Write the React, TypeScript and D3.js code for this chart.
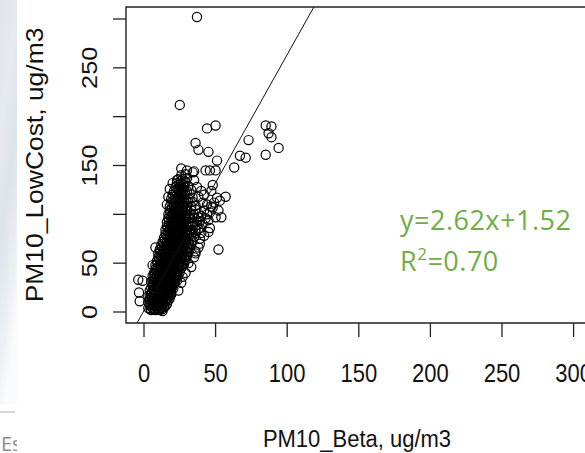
import React from "react";
import * as d3 from "d3";

// ---- data ----
const xTicks = [0, 50, 100, 150, 200, 250, 300];
const yTicks = [0, 50, 100, 150, 200, 250, 300];
const yTickLabels = [0, 50, 150, 250];
const fitSlope = 2.62;
const fitIntercept = 1.52;
const fitText = "y=2.62x+1.52";
const r2Text = "0.70";
const xTitle = "PM10_Beta, ug/m3";
const yTitle = "PM10_LowCost, ug/m3";

// dense core of the cloud: [PM10_Beta, PM10_LowCost]
const corePoints: [number, number][] = [
  [5,2],[8,2],[11,2],
  [3,4],[6,4],[9,4],[12,4],[14,5],
  [4,7],[7,7],[10,7],[13,7],[16,8],
  [3,10],[6,10],[9,10],[12,10],[15,11],
  [4,13],[7,13],[10,13],[13,13],[16,13],[18,14],
  [3,16],[6,16],[9,16],[12,16],[15,16],[18,17],
  [5,19],[8,19],[11,19],[14,19],[17,19],[19,20],
  [4,22],[7,22],[10,22],[13,22],[16,22],[19,23],
  [5,25],[8,25],[11,25],[14,25],[17,25],[20,26],
  [6,28],[9,28],[12,28],[15,28],[18,28],[21,29],
  [5,31],[8,31],[11,31],[14,31],[17,31],[20,31],[23,32],
  [7,34],[10,34],[13,34],[16,34],[19,34],[22,35],
  [6,37],[9,37],[12,37],[15,37],[18,37],[21,37],[24,38],
  [7,40],[10,40],[13,40],[16,40],[19,40],[22,40],[25,41],
  [8,44],[11,44],[14,44],[17,44],[20,44],[23,44],[26,45],
  [8,48],[11,48],[14,48],[17,48],[20,48],[23,48],[26,48],[28,49],
  [9,52],[12,52],[15,52],[18,52],[21,52],[24,52],[27,52],[29,53],
  [10,56],[13,56],[16,56],[19,56],[22,56],[25,56],[28,56],[30,57],
  [10,60],[13,60],[16,60],[19,60],[22,60],[25,60],[28,60],[31,61],
  [11,64],[14,64],[17,64],[20,64],[23,64],[26,64],[29,64],[32,65],
  [12,68],[15,68],[18,68],[21,68],[24,68],[27,68],[30,68],[33,69],
  [13,72],[16,72],[19,72],[22,72],[25,72],[28,72],[31,72],[34,73],
  [14,76],[17,76],[20,76],[23,76],[26,76],[29,76],[32,76],[35,77],
  [15,80],[18,80],[21,80],[24,80],[27,80],[30,80],[33,80],[36,81],
  [15,84],[18,84],[21,84],[24,84],[27,84],[30,84],[33,84],[36,84],[38,85],
  [16,88],[19,88],[22,88],[25,88],[28,88],[31,88],[34,88],[37,89],
  [16,92],[19,92],[22,92],[25,92],[28,92],[31,92],[34,92],[37,92],[39,93],
  [17,96],[20,96],[23,96],[26,96],[29,96],[32,96],[35,96],[38,97],
  [17,100],[20,100],[23,100],[26,100],[29,100],[32,100],[35,100],[38,101],
  [18,104],[21,104],[24,104],[27,104],[30,104],[33,104],[36,105],
  [18,108],[21,108],[24,108],[27,108],[30,108],[33,108],[36,109],
  [19,112],[22,112],[25,112],[28,112],[31,112],[34,113],
  [19,116],[22,116],[25,116],[28,116],[31,116],[34,117],
  [20,120],[23,120],[26,120],[29,120],[32,121],
  [21,124],[24,124],[27,124],[30,124],[33,125],
  [22,128],[25,128],[28,128],[31,129],
  [23,132],[26,132],[29,133],
  [24,136],[27,136],[30,137],
  [26,140],[29,141],
];

// points lying between the rows above (the cloud is solid black there)
const coreFillPoints: [number, number][] = [
  [4.5,3],[7.5,3],[10.5,3],[13,3],
  [5.5,5.5],[8.5,5.5],[11.5,5.5],[15,6],
  [4.5,8.5],[7.5,8.5],[10.5,8.5],[13.5,8.5],
  [5.5,11.5],[8.5,11.5],[11.5,11.5],[14.5,11.5],[17,12],
  [4.5,14.5],[7.5,14.5],[10.5,14.5],[13.5,14.5],[16.5,14.5],
  [4.5,17.5],[7.5,17.5],[10.5,17.5],[13.5,17.5],[16.5,17.5],[19,18],
  [5.5,20.5],[8.5,20.5],[11.5,20.5],[14.5,20.5],[17.5,20.5],
  [6.5,23.5],[9.5,23.5],[12.5,23.5],[15.5,23.5],[18.5,23.5],[20.5,24],
  [6.5,26.5],[9.5,26.5],[12.5,26.5],[15.5,26.5],[18.5,26.5],
  [6.5,29.5],[9.5,29.5],[12.5,29.5],[15.5,29.5],[18.5,29.5],[21.5,30],
  [6.5,32.5],[9.5,32.5],[12.5,32.5],[15.5,32.5],[18.5,32.5],[21.5,33],
  [7.5,35.5],[10.5,35.5],[13.5,35.5],[16.5,35.5],[19.5,35.5],[22.5,36],
  [7.5,38.5],[10.5,38.5],[13.5,38.5],[16.5,38.5],[19.5,38.5],[22.5,39],
  [8.5,42],[11.5,42],[14.5,42],[17.5,42],[20.5,42],[23.5,42],
  [9.5,46],[12.5,46],[15.5,46],[18.5,46],[21.5,46],[24.5,46],[27,47],
  [9.5,50],[12.5,50],[15.5,50],[18.5,50],[21.5,50],[24.5,50],[27.5,50],
  [10.5,54],[13.5,54],[16.5,54],[19.5,54],[22.5,54],[25.5,54],[28.5,54],
  [11.5,58],[14.5,58],[17.5,58],[20.5,58],[23.5,58],[26.5,58],[29.5,58],
  [11.5,62],[14.5,62],[17.5,62],[20.5,62],[23.5,62],[26.5,62],[29.5,62],
  [12.5,66],[15.5,66],[18.5,66],[21.5,66],[24.5,66],[27.5,66],[30.5,66],
  [13.5,70],[16.5,70],[19.5,70],[22.5,70],[25.5,70],[28.5,70],[31.5,70],
  [14.5,74],[17.5,74],[20.5,74],[23.5,74],[26.5,74],[29.5,74],
  [15.5,78],[18.5,78],[21.5,78],[24.5,78],[27.5,78],[30.5,78],
  [16.5,82],[19.5,82],[22.5,82],[25.5,82],[28.5,82],[31.5,82],
  [16.5,86],[19.5,86],[22.5,86],[25.5,86],[28.5,86],
  [17.5,90],[20.5,90],[23.5,90],[26.5,90],[29.5,90],[32.5,90],
  [17.5,94],[20.5,94],[23.5,94],[26.5,94],[29.5,94],
  [18.5,98],[21.5,98],[24.5,98],[27.5,98],[30.5,98],
  [18.5,102],[21.5,102],[24.5,102],[27.5,102],
  [19.5,106],[22.5,106],[25.5,106],[28.5,106],
  [20.5,110],[23.5,110],[26.5,110],
  [20.5,114],[23.5,114],[26.5,114],[29.5,114],
  [21.5,118],[24.5,118],[27.5,118],
  [22.5,122],[25.5,122],[28.5,122],
  [23.5,126],[26.5,126],
  [24.5,130],[27.5,130],
  [25.5,134],[28.5,134],
];

// loose rings around the edge of the cloud
const edgePoints: [number, number][] = [
  [39,70],[36,62],[31,50],[27,36],[24,22],[13,1],[40,81],[45,82],[46,86],[39,75],[36,60],
  [45,94],[50,97],[54,97],[48,107],[51,117],[57,118],[47,108],[42,104],[44,100],
  [48,130],[43,145],[46,145],[50,145],[20,132],[18,126],[23,135],[26,147],[30,145],[35,144],
  [8,66],[6,48],[-4,33],[-1,32],[-3.5,20],[-3,11],[52,64],[34,143],
  [41,90],[43,96],[40,98],[46,102],[49,112],[53,114],[44,110],[41,112],[38,118],
  [40,124],[37,128],[42,120],[39,86],[42,78],[38,66],[35,56],[33,46],[29,40],[26,30],
  [47,124],[52,104],[17,118],[16,110],[35,135],
];

// high values
const outlierPoints: [number, number][] = [
  [37,302],[25,212],[44,188],[50,191],[36,173],[38,166],[45,164],[51,155],
  [73,176],[85,191],[89,190],[87,183],[89,179],[94,168],[85,161],[67,160],
  [71,158],[63,148],
];

const W = 585;
const H = 453;
const box = { left: 126, right: 604, top: 7, bottom: 323 };

export default function App() {
  const x = d3.scaleLinear().domain([0, 300]).range([144, 573.6]);
  const y = d3.scaleLinear().domain([0, 300]).range([312, 19]);

  const allPoints = [...corePoints, ...coreFillPoints, ...edgePoints, ...outlierPoints];

  const x0 = x.invert(box.left);
  const x1 = x.invert(box.right);
  const fitLine = d3
    .line<number>()
    .x((d) => x(d))
    .y((d) => y(fitSlope * d + fitIntercept))([x0, x1]) as string;

  const axisFont = "'Liberation Sans', Arial, sans-serif";
  const green = "#70AD47";

  return (
    <svg
      width={W}
      height={H}
      viewBox={`0 0 ${W} ${H}`}
      style={{ position: "absolute", left: 0, top: 0, display: "block", background: "#fff" }}
    >
      <defs>
        <linearGradient id="slideBg" x1="0" y1="0" x2="0.3" y2="1">
          <stop offset="0" stopColor="#dfe4ea" />
          <stop offset="0.3" stopColor="#e7ebf0" />
          <stop offset="0.55" stopColor="#dde3ea" />
          <stop offset="0.85" stopColor="#eef1f4" />
          <stop offset="1" stopColor="#fafbfc" />
        </linearGradient>
        <clipPath id="plotClip">
          <rect x={box.left} y={box.top} width={box.right - box.left} height={box.bottom - box.top} />
        </clipPath>
        <clipPath id="slideClip">
          <rect x={0} y={0} width={17} height={H} />
        </clipPath>
      </defs>

      {/* slide background strip on the left */}
      <rect x={0} y={0} width={17} height={405} fill="url(#slideBg)" />
      <line x1={0} x2={15} y1={412} y2={412} stroke="#d6d6d6" strokeWidth={2} />
      <text
        x={1}
        y={451}
        fontFamily="'Open Sans', sans-serif"
        fontSize={20}
        fill="#8c8c8c"
        clipPath="url(#slideClip)"
      >
        Es
      </text>

      {/* points */}
      <g clipPath="url(#plotClip)">
        {allPoints.map((p, i) => (
          <circle
            key={i}
            cx={x(p[0])}
            cy={y(p[1])}
            r={4.6}
            fill="none"
            stroke="#000"
            strokeWidth={1.2}
          />
        ))}
        <path d={fitLine} fill="none" stroke="#111" strokeWidth={1} />
      </g>

      {/* box */}
      <path
        d={`M${box.right},${box.top}H${box.left}V${box.bottom}H${box.right}`}
        fill="none"
        stroke="#222"
        strokeWidth={1.4}
      />

      {/* y axis ticks */}
      {yTicks.map((t) => (
        <line key={"yt" + t} x1={113} x2={box.left} y1={y(t)} y2={y(t)} stroke="#222" strokeWidth={1.3} />
      ))}
      {yTickLabels.map((t) => (
        <text
          key={"yl" + t}
          transform={`translate(97,${y(t)}) scale(1,1.15) rotate(-90)`}
          textAnchor="middle"
          fontFamily={axisFont}
          fontSize={22}
          fill="#111"
        >
          {t}
        </text>
      ))}

      {/* x axis ticks */}
      {xTicks.map((t) => (
        <line key={"xt" + t} x1={x(t)} x2={x(t)} y1={box.bottom} y2={337} stroke="#222" strokeWidth={1.3} />
      ))}
      {xTicks.map((t) => (
        <text
          key={"xl" + t}
          transform={`translate(${x(t)},382) scale(1,1.15)`}
          textAnchor="middle"
          fontFamily={axisFont}
          fontSize={22}
          fill="#111"
        >
          {t}
        </text>
      ))}

      {/* axis titles */}
      <text
        transform={`translate(357,447) scale(1,1.1)`}
        textAnchor="middle"
        fontFamily={axisFont}
        fontSize={22}
        fill="#111"
      >
        {xTitle}
      </text>
      <text
        transform={`translate(43,165) scale(1,1.15) rotate(-90)`}
        textAnchor="middle"
        fontFamily={axisFont}
        fontSize={23}
        fill="#111"
      >
        {yTitle}
      </text>

      {/* regression annotation */}
      <text x={400} y={230} fontFamily="'Open Sans', sans-serif" fontSize={27} letterSpacing={0.5} fill={green}>
        {fitText}
      </text>
      <text x={400} y={271} fontFamily="'Open Sans', sans-serif" fontSize={27} letterSpacing={0.5} fill={green}>
        R
        <tspan fontSize={17} dy={-11}>2</tspan>
        <tspan dy={11}>={r2Text}</tspan>
      </text>
    </svg>
  );
}
